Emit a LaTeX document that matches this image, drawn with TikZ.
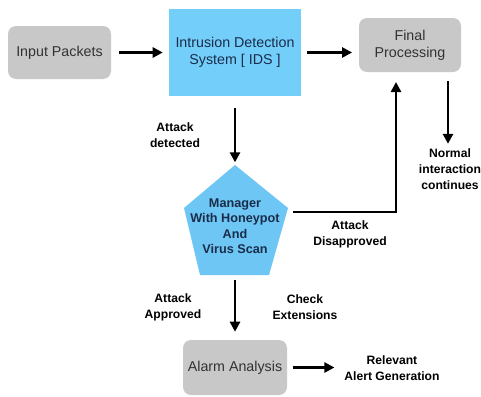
\documentclass[tikz,border=0pt]{standalone}
\usepackage{fontspec}
\setmainfont{Liberation Sans}
\usetikzlibrary{arrows.meta}
\definecolor{boxgray}{RGB}{200,200,200}
\definecolor{idsblue}{RGB}{116,206,250}
\definecolor{pentblue}{RGB}{110,198,244}
\definecolor{txtgray}{RGB}{50,50,50}
\definecolor{txtnavy}{RGB}{25,45,75}
\tikzset{
  graybox/.style={fill=boxgray, rounded corners=6pt, text=txtgray, align=center,
    font=\fontsize{10.7}{12.8}\selectfont},
  bluebox/.style={fill=idsblue, text=txtnavy, align=center,
    font=\fontsize{10.7}{12.8}\selectfont},
  lbl/.style={align=center, font=\bfseries\fontsize{9.1}{12}\selectfont, text=black},
  pentxt/.style={align=center, font=\bfseries\fontsize{9.5}{11.6}\selectfont, text=txtnavy},
  arr/.style={line width=1.9pt, -{Triangle[length=7.5pt,width=7.5pt]}},
}
\begin{document}
\begin{tikzpicture}[x=0.75pt,y=-0.75pt]
\useasboundingbox (0,0) rectangle (481,396);
% boxes
\node[graybox, minimum width=77.25pt, minimum height=39.75pt] (inp) at (59.5,52.5) {Input Packets};
\node[bluebox, minimum width=99pt, minimum height=65.25pt] (ids) at (235,52.5) {Intrusion Detection\\System [ IDS ]};
\node[graybox, minimum width=76.5pt, minimum height=40.5pt] (fin) at (410,45) {Final\\Processing};
\node[graybox, minimum width=78pt, minimum height=41.25pt] (alarm) at (235,367.5) {Alarm Analysis};
% pentagon
\coordinate (ptop) at (235,165);
\coordinate (pl) at (184,208);
\coordinate (pr) at (288,208);
\coordinate (pbr) at (269,275);
\coordinate (pbl) at (200,275);
\fill[pentblue] (ptop) -- (pr) -- (pbr) -- (pbl) -- (pl) -- cycle;
\node[pentxt] (mgr) at (235,226) {Manager\\With Honeypot\\And\\Virus Scan};
% labels
\node[lbl] (detl) at (175,135) {Attack\\detected};
\node[lbl] (disl) at (350,234.5) {Attack\\Disapproved};
\node[lbl] (norm) at (450,169) {Normal\\interaction\\continues};
\node[lbl] (appl) at (173,307.5) {Attack\\Approved};
\node[lbl] (chkl) at (305,307.5) {Check\\Extensions};
\node[lbl] (rel) at (392,368) {Relevant\\Alert Generation};
% connectors
\coordinate (finin) at (396,72);
\coordinate (finout) at (448,72);
\coordinate (disc) at (293,212);
\draw[arr, shorten <=6pt, shorten >=4.5pt] (inp.east) -- (inp.east -| ids.west);
\draw[arr, shorten <=4.5pt, shorten >=5pt] (ids.east) -- (ids.east -| fin.west);
\draw[arr, shorten <=9pt, shorten >=2pt] (ids.south) -- (ptop);
\draw[arr, shorten >=7.5pt] (disc) -| (finin);
\draw[arr, shorten <=7pt] (finout) -- (norm.north -| finout);
\draw[arr, shorten <=4pt, shorten >=6pt] (pbl -| ptop) -- (alarm.north);
\draw[arr, shorten <=4pt, shorten >=4pt] (alarm.east) -- (rel.west |- alarm.east);
\end{tikzpicture}
\end{document}
